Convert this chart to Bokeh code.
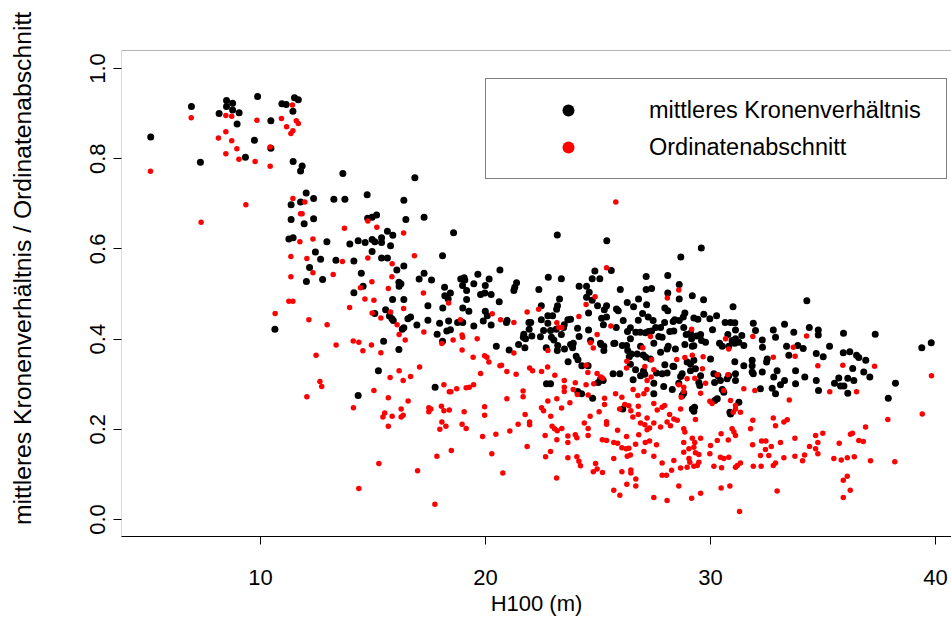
from bokeh.plotting import figure
from bokeh.models import Legend, LegendItem, FixedTicker, BoxAnnotation
from bokeh.embed import file_html
from bokeh.resources import INLINE

# H100 (m) and mittleres Kronenverhaeltnis (black points)
mittleres_kv = [
(5.12,0.848),(6.93,0.916),(7.33,0.792),(8.49,0.929),(8.76,0.923),(8.49,0.916),(8.16,0.900),(8.76,0.908),
(9.05,0.902),(8.96,0.877),(9.87,0.938),(10.46,0.884),(9.73,0.841),(9.33,0.803),(10.46,0.823),(10.95,0.922),
(11.14,0.920),(11.51,0.935),(11.68,0.931),(11.44,0.905),(11.45,0.794),(11.85,0.784),(11.78,0.773),(12.03,0.724),
(12.36,0.712),(11.36,0.698),(11.78,0.704),(11.36,0.665),(11.94,0.656),(12.36,0.667),
(11.26,0.622),(11.45,0.625),(12.95,0.616),(12.44,0.593),(12.67,0.577),(12.18,0.559),(12.04,0.528),(12.76,0.532),(10.64,0.422),
(13.66,0.767),(16.86,0.758),(13.26,0.710),(13.75,0.710),(14.74,0.720),(16.37,0.708),(14.76,0.668),(14.96,0.670),
(15.16,0.675),(16.46,0.665),(17.27,0.670),(15.64,0.639),(15.88,0.630),(18.58,0.636),(13.97,0.611),(14.34,0.618),
(14.65,0.614),(14.96,0.621),(15.08,0.616),(15.38,0.625),(15.38,0.614),(15.78,0.607),(14.96,0.594),(13.35,0.575),
(14.15,0.573),(15.38,0.580),(15.64,0.580),(18.09,0.585),(16.37,0.562),(16.06,0.553),(14.48,0.546),(17.27,0.546),
(17.05,0.533),(17.60,0.531),(16.15,0.526),(16.24,0.523),(16.16,0.517),(14.56,0.517),(14.15,0.503),(18.18,0.515),
(18.19,0.496),(18.44,0.502),(18.90,0.533),(19.05,0.536),(19.08,0.531),(19.66,0.544),(20.16,0.533),(20.64,0.553),
(18.98,0.519),(19.16,0.508),(19.48,0.523),(19.99,0.519),(19.78,0.499),(20.25,0.499),(19.97,0.502),(15.87,0.488),
(16.37,0.488),(19.16,0.488),(18.34,0.489),
(17.44,0.474),(18.10,0.469),(18.99,0.469),(19.26,0.462),(19.99,0.462),(20.08,0.452),(20.61,0.483),(15.08,0.457),
(15.56,0.465),(15.73,0.451),(15.84,0.445),(15.90,0.441),(16.55,0.445),(16.67,0.449),(17.44,0.442),(16.95,0.431),
(16.30,0.422),(16.37,0.425),(17.96,0.435),(18.36,0.440),(18.76,0.437),(18.99,0.437),(19.48,0.429),(19.90,0.440),
(20.25,0.431),(17.85,0.411),(18.28,0.418),(18.44,0.421),(18.09,0.395),(15.47,0.395),(16.15,0.377),(20.48,0.384),
(15.24,0.330),(17.76,0.293),(14.34,0.275),
(23.19,0.631),(25.39,0.618),(25.59,0.552),(24.86,0.551),(22.79,0.537),(23.37,0.534),(24.74,0.534),(25.08,0.534),
(27.14,0.539),(21.38,0.525),(21.30,0.515),(21.26,0.508),(22.37,0.510),(24.16,0.517),(24.49,0.517),(24.61,0.504),
(24.49,0.493),(24.74,0.486),(25.99,0.510),(23.29,0.489),(23.20,0.474),(23.16,0.466),(22.48,0.474),(27.14,0.510),
(26.80,0.489),(26.30,0.481),(26.58,0.472),(27.16,0.476),(24.98,0.474),(25.38,0.474),(25.28,0.465),(25.82,0.467),
(25.90,0.463),(24.58,0.458),(20.96,0.441),(20.93,0.437),(21.93,0.437),(22.01,0.437),(22.48,0.443),(22.77,0.452),
(22.98,0.452),(22.77,0.435),(23.66,0.443),(23.78,0.444),(23.50,0.432),(23.47,0.426),(21.94,0.422),(22.58,0.419),
(22.89,0.419),(23.14,0.422),(21.70,0.411),(21.68,0.404),(21.78,0.401),(22.06,0.407),(22.44,0.405),(22.93,0.404),
(23.04,0.398),(23.37,0.410),(24.09,0.424),(24.16,0.406),(24.58,0.420),(25.16,0.446),(25.38,0.449),(25.24,0.432),
(25.81,0.426),(26.12,0.441),(26.31,0.417),(26.44,0.425),(26.79,0.442),(26.98,0.457),(27.23,0.449),(26.68,0.415),
(26.88,0.415),(27.11,0.414),(27.24,0.417),(26.44,0.401),(26.08,0.386),(26.27,0.386),(26.89,0.384),(25.70,0.390),
(25.11,0.391),(25.26,0.384),(24.67,0.397),(23.78,0.388),(23.90,0.391),(23.21,0.386),(22.70,0.381),(21.75,0.381),
(21.47,0.388),(21.05,0.376),
(23.19,0.375),(23.51,0.378),(23.87,0.381),(23.67,0.350),(24.11,0.354),(24.03,0.362),(24.28,0.341),(24.56,0.341),
(22.71,0.301),(22.89,0.301),(24.10,0.284),(24.27,0.279),(24.76,0.269),(25.01,0.304),(25.11,0.311),(25.23,0.308),
(25.14,0.388),(25.26,0.375),(25.67,0.323),(25.97,0.323),(25.75,0.391),(26.32,0.375),(26.48,0.367),(26.39,0.361),
(26.74,0.367),(27.01,0.365),(27.12,0.360),(26.44,0.344),(26.67,0.332),(27.02,0.329),(26.89,0.319),(27.08,0.322),
(26.56,0.310),(26.10,0.245),
(29.59,0.602),(28.68,0.582),(28.10,0.541),(28.61,0.521),(27.38,0.512),(28.10,0.502),(28.61,0.489),(29.19,0.496),
(29.69,0.487),(31.00,0.472),(27.97,0.469),(28.10,0.463),(28.86,0.458),(28.79,0.449),(28.61,0.441),(28.41,0.443),
(28.34,0.439),(29.26,0.447),(29.44,0.444),(29.70,0.455),(29.97,0.445),(30.27,0.452),(27.96,0.437),(28.19,0.417),
(28.37,0.418),(27.78,0.426),(27.56,0.426),(27.38,0.418),(27.45,0.441),(27.70,0.406),(27.85,0.404),(27.48,0.391),
(28.81,0.426),(28.92,0.410),(29.11,0.413),(29.16,0.401),(29.38,0.407),(29.56,0.410),(29.60,0.397),(29.78,0.393),
(30.09,0.421),(30.65,0.437),(30.89,0.437),(31.08,0.436),(31.11,0.420),(30.77,0.410),(31.11,0.401),(31.39,0.408),
(30.96,0.397),(31.26,0.393),(31.90,0.435),(32.00,0.419),(32.30,0.398),(32.79,0.420),(32.89,0.404),(33.29,0.433),
(33.70,0.415),(28.86,0.388),(29.19,0.384),(29.26,0.385),(30.40,0.391),(30.52,0.384),(30.81,0.384),(31.08,0.391),
(31.48,0.386),(32.31,0.382),(33.38,0.384),(28.12,0.384),(28.44,0.378),
(28.07,0.378),(33.88,0.386),(27.78,0.371),(27.33,0.356),(27.60,0.325),(27.85,0.323),(28.07,0.325),(28.37,0.339),
(27.97,0.343),(28.33,0.340),(28.74,0.323),(28.67,0.317),(28.96,0.349),(29.11,0.345),(29.26,0.353),(29.33,0.334),
(29.11,0.330),(29.56,0.319),(29.48,0.304),(29.52,0.297),(30.00,0.356),(27.48,0.302),(27.92,0.295),(28.30,0.288),
(27.48,0.279),(28.59,0.302),(28.74,0.275),(28.81,0.280),(29.19,0.245),(29.26,0.240),(29.29,0.249),(30.15,0.323),
(30.33,0.319),(30.18,0.304),(30.44,0.308),(30.52,0.288),(30.59,0.282),(30.30,0.268),(30.19,0.264),(31.26,0.260),
(30.89,0.234),(30.86,0.238),(31.08,0.350),(31.48,0.341),(31.11,0.323),(31.11,0.308),(30.74,0.312),(30.81,0.319),
(31.85,0.353),(31.85,0.341),(31.85,0.327),(31.90,0.323),(32.30,0.327),(32.52,0.356),(32.49,0.349),(32.22,0.290),
(32.74,0.291),(32.89,0.279),(33.11,0.299),(32.96,0.330),(32.81,0.316),(33.29,0.308),(33.78,0.330),(33.78,0.301),
(33.48,0.364),
(34.28,0.485),(34.39,0.426),(34.79,0.420),(34.79,0.409),(35.91,0.413),(37.32,0.411),(34.12,0.379),(35.29,0.384),
(34.70,0.368),(35.01,0.361),(35.90,0.370),(36.19,0.372),(36.49,0.364),(36.59,0.359),(36.90,0.353),(36.32,0.335),
(36.81,0.327),(37.08,0.316),(34.19,0.316),(34.70,0.308),(35.70,0.314),(36.10,0.313),(36.37,0.308),(39.39,0.381),
(39.81,0.392),(34.80,0.286),(35.51,0.302),(35.78,0.296),(35.93,0.296),(36.10,0.280),(38.22,0.302),(37.90,0.269),
]

# H100 (m) and Ordinatenabschnitt (red points)
ordinatenabschnitt = [
(5.11,0.772),(6.92,0.891),(8.46,0.896),(8.72,0.894),(8.46,0.860),(8.13,0.846),(8.72,0.840),(8.95,0.822),
(8.46,0.811),(9.04,0.799),(9.76,0.794),(9.84,0.885),(10.43,0.826),(10.43,0.783),(9.35,0.698),(7.36,0.659),
(10.93,0.889),(11.16,0.871),(11.42,0.919),(11.59,0.884),(11.68,0.878),(11.44,0.862),(11.35,0.856),(11.44,0.712),
(11.97,0.704),(11.78,0.678),(11.85,0.678),
(11.75,0.616),(12.33,0.622),(11.35,0.583),(12.06,0.579),(12.33,0.547),(11.35,0.538),(11.26,0.484),(11.44,0.484),
(10.65,0.457),(12.15,0.443),(12.96,0.432),(12.47,0.364),(12.64,0.306),(12.72,0.295),(12.06,0.272),
(14.77,0.662),(13.73,0.646),(15.17,0.648),(16.36,0.635),(13.64,0.572),(14.77,0.580),(16.84,0.585),(15.85,0.567),
(13.23,0.543),(15.84,0.538),(14.95,0.527),(14.44,0.514),(15.68,0.512),(17.24,0.502),(14.64,0.489),(15.04,0.486),
(13.96,0.470),(14.96,0.458),(15.35,0.447),(15.78,0.460),(16.36,0.468),(18.36,0.480),(16.07,0.432),(16.16,0.410),
(17.26,0.416),(18.88,0.443),(20.30,0.456),(20.67,0.443),(16.43,0.398),(18.06,0.390),(18.56,0.398),(18.96,0.409),
(18.98,0.404),(19.63,0.401),(18.96,0.376),(14.12,0.396),(14.37,0.393),(13.36,0.387),(14.93,0.387),(14.55,0.374),
(15.35,0.370),(19.45,0.360),(19.96,0.363),(20.06,0.360),(20.15,0.349),(20.64,0.341),(17.07,0.338),(16.16,0.330),
(15.76,0.315),(16.67,0.317),(16.34,0.308),(19.78,0.324),(18.15,0.299),(18.39,0.283),(18.46,0.283),(18.72,0.290),
(19.14,0.292),(19.28,0.293),(19.47,0.299),(15.04,0.286),(15.68,0.270),(16.56,0.263),(14.13,0.248),(17.48,0.248),
(17.57,0.245),(17.48,0.239),(18.04,0.251),(18.15,0.241),(18.39,0.243),(19.05,0.239),(19.96,0.250),(19.96,0.231),
(16.25,0.245),(16.34,0.231),(16.25,0.227),(15.52,0.236),(15.44,0.227),(15.85,0.229),(15.68,0.207),(18.06,0.216),
(18.24,0.207),(17.97,0.200),(18.96,0.211),(19.14,0.202),(19.87,0.184),(20.46,0.189),(18.48,0.153),(17.84,0.140),
(20.28,0.146),(15.26,0.124),(16.98,0.108),(14.37,0.069),(17.75,0.034),
(25.79,0.704),(25.38,0.558),(24.87,0.494),(24.47,0.477),(21.85,0.460),(22.36,0.466),(21.26,0.437),(24.15,0.450),
(23.17,0.436),(23.26,0.426),(23.39,0.426),(25.57,0.429),(24.96,0.410),(24.67,0.392),(24.79,0.380),(26.99,0.381),
(27.33,0.406),
(21.26,0.369),(20.71,0.342),(20.95,0.328),(21.36,0.322),(21.96,0.336),(22.09,0.330),(22.49,0.328),(22.76,0.338),
(23.08,0.320),(22.77,0.375),(24.47,0.342),(24.55,0.326),(24.96,0.324),(25.13,0.316),(25.20,0.313),(24.81,0.301),
(24.47,0.299),(23.99,0.303),(23.50,0.308),(23.50,0.293),(23.50,0.284),(23.90,0.288),(24.08,0.277),(24.56,0.276),
(21.67,0.285),(21.67,0.272),(20.95,0.268),(22.77,0.263),(23.17,0.268),(23.75,0.259),(23.38,0.247),(22.49,0.248),
(22.58,0.241),(22.90,0.229),(21.76,0.233),(21.96,0.216),(21.96,0.210),(21.45,0.211),(21.08,0.196),(22.96,0.207),
(23.07,0.201),(23.19,0.197),(23.39,0.202),(22.65,0.186),(23.17,0.177),(23.66,0.185),(23.66,0.171),(23.99,0.188),
(24.06,0.181),(24.39,0.214),(24.56,0.202),(24.56,0.186),(24.65,0.229),(25.05,0.239),(25.29,0.269),(25.29,0.255),
(25.38,0.217),(25.38,0.211),(25.78,0.279),(26.06,0.271),(25.96,0.245),(26.19,0.255),(26.37,0.252),(26.46,0.241),
(26.79,0.251),(26.79,0.233),(26.55,0.227),(26.77,0.275),(26.56,0.288),(27.17,0.288),(27.18,0.308),(26.89,0.214),
(27.08,0.210),(27.18,0.225),(27.18,0.199),(25.87,0.198),(25.19,0.177),(25.38,0.175),(25.70,0.171),(25.87,0.169),
(26.06,0.159),(26.25,0.157),(26.37,0.158),(26.27,0.184),(26.81,0.188),(26.67,0.167),(27.10,0.171),(27.04,0.151),
(26.30,0.140),(26.44,0.143),(25.70,0.135),(24.06,0.139),(24.15,0.129),(24.22,0.119),(23.66,0.137),(24.89,0.124),
(24.96,0.112),(24.79,0.106),(25.20,0.104),(23.16,0.092),(21.85,0.162),(22.67,0.139),(22.89,0.151),(20.77,0.103),
(26.06,0.106),(26.46,0.110),(26.46,0.103),(26.68,0.090),(26.68,0.074),(26.28,0.078),(25.70,0.065),(25.97,0.054),
(26.28,0.351),(26.27,0.336),(27.08,0.339),
(28.59,0.509),(28.08,0.491),(29.16,0.422),(30.67,0.401),(31.88,0.406),(30.81,0.378),(33.68,0.382),
(27.38,0.354),(28.86,0.359),(29.19,0.364),(29.67,0.361),(29.64,0.334),(28.50,0.355),(27.48,0.332),(27.36,0.316),
(27.04,0.279),(28.96,0.312),(29.30,0.313),(29.78,0.302),(28.59,0.299),(28.81,0.293),(28.81,0.284),(28.70,0.271),
(29.56,0.280),(30.30,0.321),(30.77,0.321),(30.59,0.286),(29.97,0.262),(30.07,0.257),(31.48,0.290),(31.97,0.286),
(30.89,0.264),(31.11,0.253),(31.11,0.245),(31.33,0.238),(31.01,0.238),(32.79,0.360),(33.50,0.265),(27.48,0.257),
(27.63,0.243),(27.96,0.253),(27.85,0.249),(28.18,0.233),(28.67,0.245),(27.29,0.203),(27.48,0.214),(27.78,0.205),
(28.07,0.216),(28.22,0.208),(28.37,0.223),(28.52,0.220),(28.81,0.201),(28.86,0.194),(29.33,0.222),(30.47,0.190),
(30.96,0.201),(31.11,0.186),(31.04,0.194),(31.88,0.220),(31.78,0.201),(32.79,0.225),(32.89,0.208),(33.26,0.216),
(33.41,0.221),(29.19,0.180),(29.56,0.180),(30.79,0.176),(30.30,0.175),(30.00,0.164),(27.29,0.174),(27.60,0.166),
(27.48,0.140),(28.81,0.171),(28.81,0.149),(29.04,0.157),(29.26,0.160),(29.30,0.171),(29.33,0.148),(29.04,0.135),
(29.48,0.144),(29.08,0.127),(29.26,0.118),(29.41,0.120),(29.48,0.127),(28.96,0.116),(29.97,0.146),(30.44,0.138),
(30.59,0.135),(30.81,0.138),(30.15,0.118),(30.49,0.115),(31.19,0.120),(31.33,0.125),(31.11,0.116),(31.87,0.166),
(32.27,0.174),(32.46,0.174),(32.44,0.155),(32.70,0.162),(32.22,0.142),(32.59,0.142),(33.11,0.171),(33.75,0.180),
(33.75,0.140),(33.26,0.137),(32.89,0.125),(32.79,0.120),(31.90,0.118),(32.25,0.118),(27.85,0.125),(28.27,0.109),
(28.04,0.098),(27.85,0.098),(28.37,0.131),(28.67,0.114),(28.59,0.074),(29.16,0.047),(29.56,0.058),(28.07,0.042),
(27.48,0.049),(30.47,0.070),(30.86,0.074),(31.29,0.018),(32.96,0.063),
(34.27,0.407),(33.76,0.362),(34.77,0.341),(35.88,0.342),(37.29,0.340),(39.82,0.319),
(35.30,0.283),(36.49,0.283),(39.41,0.234),(37.88,0.222),(36.89,0.205),(34.67,0.186),(34.99,0.191),(34.77,0.171),
(36.22,0.189),(36.31,0.191),(36.59,0.175),(36.79,0.173),(35.72,0.169),(34.40,0.162),(34.67,0.157),(34.77,0.146),
(34.18,0.143),(34.09,0.130),(35.48,0.135),(35.81,0.132),(36.08,0.137),(36.39,0.139),(37.11,0.130),(38.19,0.128),
(36.08,0.096),(35.90,0.087),(36.21,0.065),(35.90,0.049),
]

x_ticks = [10, 20, 30, 40]
y_ticks = [0.0, 0.2, 0.4, 0.6, 0.8, 1.0]
y_tick_labels = ["0.0", "0.2", "0.4", "0.6", "0.8", "1.0"]
series_labels = ["mittleres Kronenverhältnis", "Ordinatenabschnitt"]
x_title = "H100 (m)"
y_title = "mittleres Kronenverhältnis / Ordinatenabschnitt"

FONT = "Liberation Sans"
FS = "22px"
X_MIN, X_MAX = 3.822, 40.71
Y_MIN, Y_BOX_TOP = -0.0377, 1.040   # plot box limits
Y_VIEW_TOP = 1.1508                 # view extends above the box so the y title sits like the original

p = figure(width=951, height=643, x_range=(X_MIN, X_MAX), y_range=(Y_MIN, Y_VIEW_TOP),
           output_backend="svg", toolbar_location=None,
           min_border_left=121, min_border_right=0, min_border_top=0, min_border_bottom=107)
p.background_fill_color = "white"
p.border_fill_color = "white"
p.outline_line_color = None
p.xgrid.visible = False
p.ygrid.visible = False

# the plot box (right edge lies beyond the visible window, as in the original)
p.add_layout(BoxAnnotation(left=X_MIN, right=X_MAX + 5, bottom=Y_MIN, top=Y_BOX_TOP,
                           fill_alpha=0, line_color="black", line_width=1, level="underlay"))

bx = [a for a, b in mittleres_kv]
by = [b for a, b in mittleres_kv]
rx = [a for a, b in ordinatenabschnitt]
ry = [b for a, b in ordinatenabschnitt]

rb = p.scatter(bx, by, size=7, color="black", line_color=None)
rr = p.scatter(rx, ry, size=5.5, color="red", line_color=None)

for ax in (p.xaxis[0], p.yaxis[0]):
    ax.axis_line_color = "black"
    ax.major_tick_line_color = "black"
    ax.minor_tick_line_color = None
    ax.major_tick_in = 0
    ax.major_tick_out = 8
    ax.major_label_text_font = FONT
    ax.major_label_text_font_size = FS
    ax.major_label_text_color = "black"
    ax.axis_label_text_font = FONT
    ax.axis_label_text_font_size = FS
    ax.axis_label_text_font_style = "normal"
    ax.axis_label_text_color = "black"

p.xaxis.ticker = FixedTicker(ticks=x_ticks)
p.xaxis.axis_label = x_title
p.xaxis.major_label_standoff = 25
p.xaxis.axis_label_standoff = 3

p.yaxis.axis_line_color = None
p.yaxis.ticker = FixedTicker(ticks=y_ticks)
p.yaxis.major_label_overrides = {t: l for t, l in zip(y_ticks, y_tick_labels)}
p.yaxis.major_label_orientation = "vertical"
p.yaxis.major_label_standoff = 8
p.yaxis.axis_label = y_title
p.yaxis.axis_label_text_font_size = "24.7px"
p.yaxis.axis_label_standoff = 52

legend = Legend(items=[LegendItem(label=series_labels[0], renderers=[rb]),
                       LegendItem(label=series_labels[1], renderers=[rr])],
                location=(364, 357), padding=16, margin=0,
                glyph_width=132, glyph_height=30, label_standoff=15,
                label_width=281, label_height=30, spacing=7,
                border_line_color="black", border_line_width=1,
                background_fill_color="white", background_fill_alpha=1.0,
                label_text_font=FONT, label_text_font_size="23.5px", label_text_color="black")
p.add_layout(legend)

open("out.html", "w").write(file_html(p, INLINE))
